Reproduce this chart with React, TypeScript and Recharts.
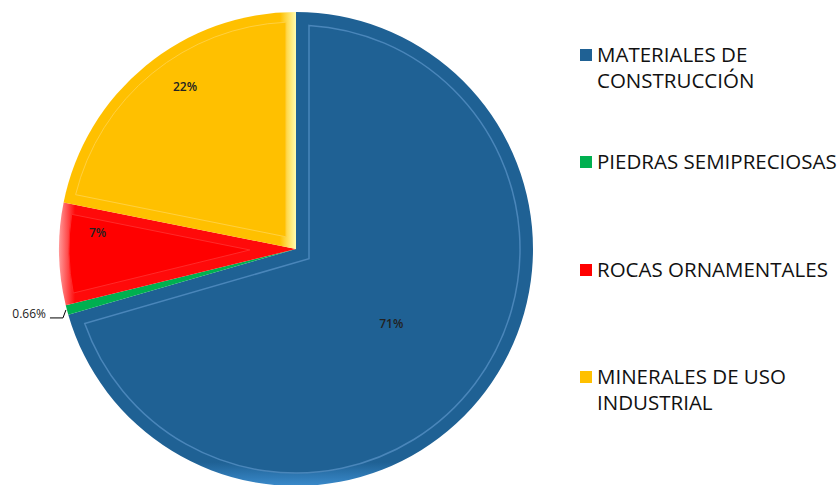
import React from "react";
import { PieChart, Pie, Cell, Sector } from "recharts";

const categories = [
  "MATERIALES DE CONSTRUCCIÓN",
  "PIEDRAS SEMIPRECIOSAS",
  "ROCAS ORNAMENTALES",
  "MINERALES DE USO INDUSTRIAL",
];
const legendLines = [
  ["MATERIALES DE", "CONSTRUCCIÓN"],
  ["PIEDRAS SEMIPRECIOSAS"],
  ["ROCAS ORNAMENTALES"],
  ["MINERALES DE USO", "INDUSTRIAL"],
];
const values = [71, 0.66, 7, 22];
const valueLabels = ["71%", "0.66%", "7%", "22%"];

const colors = ["#1f6194", "#00b050", "#ff0000", "#ffc000"];
const bevelLine = ["#4a86ba", "#00b050", "#ff2a2a", "#ffd040"];

// label placement (fraction of radius, clockwise shift in degrees) – Excel "best fit"
const labelRadius = [0.51, 1, 0.84, 0.83];
const labelShift = [1, 0, 6, 5];

const data = categories.map((name, i) => ({ name, value: values[i] }));

const RAD = Math.PI / 180;
const BEVEL = 13;
const CX = 296;
const CY = 249;
const R = 237;

function insetPath(cx: number, cy: number, r: number, s: number, e: number, d: number) {
  const h = (s - e) / 2;
  const m = (s + e) / 2;
  const k = d / Math.sin(h * RAD);
  const px = cx + k * Math.cos(m * RAD);
  const py = cy - k * Math.sin(m * RAD);
  const rr = r - d;
  const hit = (a: number) => {
    const ux = Math.cos(a * RAD);
    const uy = -Math.sin(a * RAD);
    const wx = px - cx;
    const wy = py - cy;
    const b = wx * ux + wy * uy;
    const t = -b + Math.sqrt(Math.max(0, b * b - (wx * wx + wy * wy) + rr * rr));
    return [px + t * ux, py + t * uy];
  };
  const [x1, y1] = hit(s);
  const [x2, y2] = hit(e);
  const large = s - e > 180 ? 1 : 0;
  return `M${px},${py} L${x1},${y1} A${rr},${rr} 0 ${large} 1 ${x2},${y2} Z`;
}

function BevelSlice(props: any) {
  const { cx, cy, outerRadius, startAngle, endAngle, index } = props;
  const s = Math.max(startAngle, endAngle);
  const e = Math.min(startAngle, endAngle);
  const span = s - e;
  const gid = `bevel-${index}`;
  let grad: any = null;
  if (index === 3) {
    grad = (
      <linearGradient id={gid} gradientUnits="userSpaceOnUse" x1={cx - 16} y1={0} x2={cx} y2={0}>
        <stop offset="0%" stopColor="#ffc000" />
        <stop offset="100%" stopColor="#fffbb0" />
      </linearGradient>
    );
  } else if (index === 2) {
    grad = (
      <linearGradient id={gid} gradientUnits="userSpaceOnUse" x1={cx - outerRadius} y1={0} x2={cx - outerRadius + 16} y2={0}>
        <stop offset="0%" stopColor="#ff9a9a" />
        <stop offset="100%" stopColor="#ff0a0a" />
      </linearGradient>
    );
  } else if (index === 0) {
    grad = (
      <linearGradient id={gid} gradientUnits="userSpaceOnUse" x1={0} y1={cy} x2={0} y2={cy + outerRadius}>
        <stop offset="0%" stopColor="#1f6194" />
        <stop offset="90%" stopColor="#1f6194" />
        <stop offset="100%" stopColor="#3a8acb" />
      </linearGradient>
    );
  }
  return (
    <g>
      {grad && <defs>{grad}</defs>}
      <Sector
        cx={cx}
        cy={cy}
        innerRadius={0}
        outerRadius={outerRadius}
        startAngle={startAngle}
        endAngle={endAngle}
        fill={grad ? `url(#${gid})` : colors[index]}
        stroke="none"
      />
      {span > 20 && (
        <path
          d={insetPath(cx, cy, outerRadius, s, e, index === 0 ? BEVEL : 10)}
          fill={colors[index]}
          stroke={bevelLine[index]}
          strokeWidth={index === 0 ? 1.5 : 1}
        />
      )}
    </g>
  );
}

function renderLabel(props: any) {
  const { cx, cy, midAngle, outerRadius, index } = props;
  if (index === 1) {
    const ex = cx + outerRadius * Math.cos(-midAngle * RAD);
    const ey = cy + outerRadius * Math.sin(-midAngle * RAD);
    return (
      <g>
        <polyline
          points={`${ex - 1},${ey} ${ex - 4},${ey + 8} ${ex - 17},${ey + 8}`}
          fill="none"
          stroke="#000"
          strokeWidth={1}
        />
        <text x={ex - 21} y={ey + 4} textAnchor="end" dominantBaseline="central" fontSize={12} fill="#222">
          {valueLabels[index]}
        </text>
      </g>
    );
  }
  const a = (midAngle - labelShift[index]) * RAD;
  const r = outerRadius * labelRadius[index];
  const x = cx + r * Math.cos(-a);
  const y = cy + r * Math.sin(-a);
  return (
    <text x={x} y={y} textAnchor="middle" dominantBaseline="central" fontSize={12} fontWeight={600} fill="#222">
      {valueLabels[index]}
    </text>
  );
}

export default function App() {
  return (
    <div
      style={{
        position: "absolute",
        left: 0,
        top: 0,
        width: 838,
        height: 485,
        background: "#fff",
        fontFamily: "'Open Sans', sans-serif",
        overflow: "hidden",
      }}
    >
      <PieChart width={838} height={485} margin={{ top: 0, right: 0, bottom: 0, left: 0 }}>
        <Pie
          data={data}
          dataKey="value"
          nameKey="name"
          cx={CX}
          cy={CY}
          outerRadius={R}
          startAngle={90}
          endAngle={-270}
          stroke="none"
          shape={BevelSlice}
          activeShape={BevelSlice}
          label={renderLabel}
          labelLine={false}
          isAnimationActive={false}
        >
          {data.map((d, i) => (
            <Cell key={d.name} fill={colors[i]} />
          ))}
        </Pie>
      </PieChart>
      {legendLines.map((lines, i) => {
        const top = 41 + i * 107.3;
        return (
          <div key={categories[i]}>
            <div
              style={{
                position: "absolute",
                left: 580,
                top: top + 8,
                width: 12,
                height: 12,
                background: colors[i],
              }}
            />
            <div
              style={{
                position: "absolute",
                left: 597,
                top: top,
                fontSize: 20.5,
                lineHeight: "26px",
                color: "#111",
                whiteSpace: "nowrap",
              }}
            >
              {lines.map((l) => (
                <div key={l}>{l}</div>
              ))}
            </div>
          </div>
        );
      })}
    </div>
  );
}
